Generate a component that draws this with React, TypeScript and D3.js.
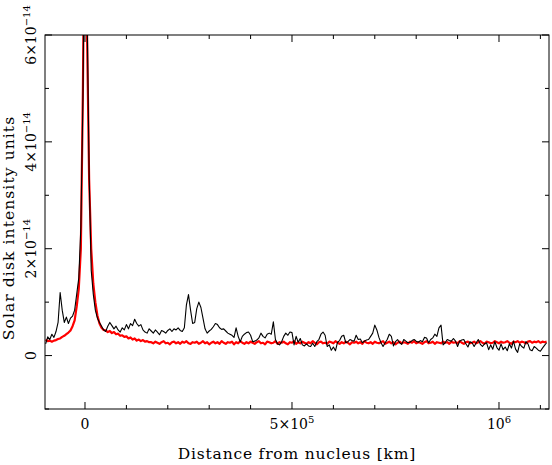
import * as d3 from 'd3';

// distance from nucleus, in units of 1000 km
const distanceKkm = [
	-95, -90, -85, -80, -75, -70, -65, -60, -55, -50, -45, -40, -35, -30, -25, -20, -15, -10, -5, 0,
	5, 10, 15, 20, 25, 30, 35, 40, 45, 50, 55, 60, 65, 70, 75, 80, 85, 90, 95, 100,
	105, 110, 115, 120, 125, 130, 135, 140, 145, 150, 155, 160, 165, 170, 175, 180, 185, 190, 195, 200,
	205, 210, 215, 220, 225, 230, 235, 240, 245, 250, 255, 260, 265, 270, 275, 280, 285, 290, 295, 300,
	305, 310, 315, 320, 325, 330, 335, 340, 345, 350, 355, 360, 365, 370, 375, 380, 385, 390, 395, 400,
	405, 410, 415, 420, 425, 430, 435, 440, 445, 450, 455, 460, 465, 470, 475, 480, 485, 490, 495, 500,
	505, 510, 515, 520, 525, 530, 535, 540, 545, 550, 555, 560, 565, 570, 575, 580, 585, 590, 595, 600,
	605, 610, 615, 620, 625, 630, 635, 640, 645, 650, 655, 660, 665, 670, 675, 680, 685, 690, 695, 700,
	705, 710, 715, 720, 725, 730, 735, 740, 745, 750, 755, 760, 765, 770, 775, 780, 785, 790, 795, 800,
	805, 810, 815, 820, 825, 830, 835, 840, 845, 850, 855, 860, 865, 870, 875, 880, 885, 890, 895, 900,
	905, 910, 915, 920, 925, 930, 935, 940, 945, 950, 955, 960, 965, 970, 975, 980, 985, 990, 995, 1000,
	1005, 1010, 1015, 1020, 1025, 1030, 1035, 1040, 1045, 1050, 1055, 1060, 1065, 1070, 1075, 1080, 1085, 1090, 1095, 1100,
	1105, 1110, 1115,
];

// observed profile (black), units of 1e-14
const observed = [
	0.22, 0.35, 0.30, 0.40, 0.34, 0.45, 0.62, 1.18, 0.85, 0.62, 0.72, 0.60, 0.70, 0.74, 0.85, 1.15, 1.45, 2.4, 4.8, 9.0,
	6.5, 3.4, 1.6, 1.15, 0.85, 0.70, 0.62,
	0.55, 0.48, 0.45, 0.55, 0.62, 0.56, 0.50, 0.55, 0.48, 0.44, 0.52, 0.48,
	0.58, 0.50, 0.60, 0.56, 0.68, 0.60, 0.55, 0.58, 0.48, 0.44, 0.42, 0.50,
	0.46, 0.42, 0.48, 0.44, 0.39, 0.47, 0.45, 0.42, 0.47, 0.50, 0.45, 0.50,
	0.48, 0.52, 0.47, 0.45, 0.52, 0.95, 1.14, 0.85, 0.60, 0.62, 0.88, 1.00,
	0.90, 0.70, 0.50, 0.42, 0.46, 0.49, 0.54, 0.60, 0.58, 0.52, 0.49, 0.50,
	0.46, 0.42, 0.40, 0.38, 0.34, 0.52, 0.36, 0.26, 0.36, 0.40, 0.43, 0.44,
	0.38, 0.26, 0.27, 0.29, 0.33, 0.42, 0.36, 0.33, 0.40, 0.42, 0.40, 0.63,
	0.30, 0.22, 0.20, 0.26, 0.36, 0.42, 0.38, 0.44,
	0.43, 0.20, 0.36, 0.25, 0.32, 0.20, 0.18, 0.22, 0.18, 0.17, 0.23, 0.17,
	0.26, 0.30, 0.40, 0.44, 0.38, 0.17, 0.20, 0.10, 0.16, 0.09, 0.25, 0.28,
	0.36, 0.38, 0.24, 0.26, 0.30, 0.28, 0.27, 0.38, 0.30, 0.31, 0.24, 0.27,
	0.29, 0.30, 0.36, 0.42, 0.57, 0.48, 0.34, 0.24, 0.17, 0.24, 0.30, 0.40,
	0.36, 0.18, 0.26, 0.30, 0.24, 0.21, 0.30, 0.27, 0.24, 0.25, 0.28, 0.30,
	0.27, 0.25, 0.28,
	0.26, 0.34, 0.33, 0.24, 0.30, 0.33, 0.40, 0.36, 0.52, 0.57, 0.20, 0.24,
	0.30, 0.28, 0.27, 0.32, 0.27, 0.17, 0.27, 0.29, 0.30, 0.22, 0.16, 0.26,
	0.24, 0.17, 0.24, 0.30, 0.21, 0.17, 0.22, 0.24, 0.11, 0.20, 0.12, 0.26,
	0.15, 0.10, 0.22, 0.11, 0.16, 0.09, 0.22, 0.14, 0.27, 0.12, 0.06, 0.22,
	0.17, 0.14, 0.26, 0.22, 0.11, 0.09, 0.17, 0.14, 0.10, 0.08, 0.14, 0.19,
	0.24,
];

// model profile (red), units of 1e-14
const model = [
	0.30, 0.27, 0.28, 0.26, 0.28, 0.29, 0.31, 0.32, 0.35, 0.37, 0.40, 0.43, 0.47, 0.55, 0.66, 0.92, 1.25, 2.0, 5.0, 9.5,
	6.0, 3.3, 2.0, 1.35, 1.0, 0.75, 0.60,
	0.52, 0.48, 0.47, 0.44, 0.46, 0.42, 0.44, 0.40, 0.41, 0.37, 0.38, 0.35,
	0.36, 0.32, 0.34, 0.30, 0.32, 0.28, 0.30, 0.27, 0.29, 0.26, 0.27, 0.25,
	0.25, 0.23, 0.26, 0.24, 0.22, 0.25, 0.27, 0.23, 0.24, 0.21, 0.25, 0.26,
	0.23, 0.25, 0.22, 0.26, 0.24, 0.27, 0.23, 0.22, 0.25, 0.24, 0.26, 0.22,
	0.24, 0.27, 0.23, 0.25, 0.21, 0.24, 0.26, 0.23, 0.25, 0.22, 0.27, 0.24,
	0.22, 0.25, 0.24, 0.26, 0.21, 0.25, 0.23, 0.27, 0.24, 0.22, 0.25, 0.23,
	0.26, 0.24, 0.22, 0.25, 0.27, 0.23, 0.24, 0.21, 0.26, 0.25, 0.23, 0.24,
	0.27, 0.22, 0.25, 0.24, 0.26, 0.23, 0.21, 0.25, 0.24, 0.27, 0.22, 0.25,
	0.23, 0.26, 0.24, 0.22, 0.25, 0.23, 0.27, 0.24, 0.21, 0.25, 0.26, 0.23,
	0.24, 0.22, 0.26, 0.25, 0.23, 0.27, 0.24, 0.22, 0.25, 0.23, 0.26, 0.24,
	0.21, 0.25, 0.24, 0.26, 0.23, 0.25, 0.22, 0.27, 0.24, 0.23, 0.25, 0.22,
	0.26, 0.24, 0.23, 0.25, 0.27, 0.22, 0.24, 0.26, 0.23, 0.25, 0.21, 0.24,
	0.26, 0.23, 0.25, 0.24, 0.22, 0.26, 0.24, 0.27, 0.23, 0.25, 0.24, 0.22,
	0.25, 0.27, 0.23, 0.24, 0.26, 0.22, 0.25, 0.24, 0.23, 0.26, 0.24, 0.25,
	0.22, 0.26, 0.24, 0.25, 0.23, 0.27, 0.24, 0.22, 0.25, 0.26, 0.23, 0.24,
	0.26, 0.23, 0.25, 0.27, 0.24, 0.22, 0.26, 0.25, 0.23, 0.24, 0.27, 0.25,
	0.23, 0.26, 0.24, 0.25, 0.27, 0.24, 0.22, 0.26, 0.25, 0.27, 0.24, 0.26,
	0.25, 0.23, 0.26, 0.27, 0.24, 0.26, 0.25, 0.27, 0.24, 0.26, 0.25, 0.26,
];

const xMajorTicks = [0, 500, 1000];
const xMinorTicks = [100, 200, 300, 400, 600, 700, 800, 900, 1100];
const xTickLabels = [
	{ base: '0', exp: '' },
	{ base: '5×10', exp: '5' },
	{ base: '10', exp: '6' },
];
const yMajorTicks = [0, 2, 4, 6];
const yMinorTicks = [-1, 1, 3, 5];
const yTickLabels = [
	{ base: '0', exp: '' },
	{ base: '2×10', exp: '−14' },
	{ base: '4×10', exp: '−14' },
	{ base: '6×10', exp: '−14' },
];

const frame = { left: 45, right: 549, top: 35, bottom: 409 };
const font = '"DejaVu Serif", serif';

export default function App() {

	const x = d3.scaleLinear().domain([-96.6, 1120.8]).range([frame.left, frame.right]);
	const y = d3.scaleLinear().domain([-1, 6]).range([frame.bottom, frame.top]);

	const path = (vals: number[]) => d3.line<number>()
		.x((_, i) => x(distanceKkm[i]))
		.y(d => y(d))(vals) || '';

	const tick = '#000';

	return (
		<svg width={552} height={465} style={{ position: 'fixed', left: 0, top: 0, background: '#fff' }}>
			<defs>
				<clipPath id='plot'>
					<rect x={frame.left} y={frame.top} width={frame.right - frame.left} height={frame.bottom - frame.top} />
				</clipPath>
			</defs>

			<g clipPath='url(#plot)' fill='none' strokeLinejoin='round'>
				<path d={path(model)} stroke='#ff0000' strokeWidth={2.2} />
				<path d={path(observed)} stroke='#000' strokeWidth={1.1} />
			</g>

			<rect x={frame.left} y={frame.top} width={frame.right - frame.left} height={frame.bottom - frame.top}
				fill='none' stroke={tick} strokeWidth={1} />

			{xMajorTicks.map(t => <g key={'xM' + t}>
				<line x1={x(t)} x2={x(t)} y1={frame.bottom} y2={frame.bottom - 7} stroke={tick} />
				<line x1={x(t)} x2={x(t)} y1={frame.top} y2={frame.top + 7} stroke={tick} />
			</g>)}
			{xMinorTicks.map(t => <g key={'xm' + t}>
				<line x1={x(t)} x2={x(t)} y1={frame.bottom} y2={frame.bottom - 4} stroke={tick} />
				<line x1={x(t)} x2={x(t)} y1={frame.top} y2={frame.top + 4} stroke={tick} />
			</g>)}
			{yMajorTicks.map(t => <g key={'yM' + t}>
				<line y1={y(t)} y2={y(t)} x1={frame.left} x2={frame.left + 7} stroke={tick} />
				<line y1={y(t)} y2={y(t)} x1={frame.right} x2={frame.right - 7} stroke={tick} />
			</g>)}
			{yMinorTicks.map(t => <g key={'ym' + t}>
				<line y1={y(t)} y2={y(t)} x1={frame.left} x2={frame.left + 4} stroke={tick} />
				<line y1={y(t)} y2={y(t)} x1={frame.right} x2={frame.right - 4} stroke={tick} />
			</g>)}

			<g fontFamily={font} fontSize={14} fill='#000'>
				{xMajorTicks.map((t, i) => (
					<text key={'xl' + t} x={x(t)} y={429} textAnchor='middle'>
						{xTickLabels[i].base}
						{xTickLabels[i].exp && <tspan fontSize={10} dy={-6}>{xTickLabels[i].exp}</tspan>}
					</text>
				))}
				{yMajorTicks.map((t, i) => (
					<text key={'yl' + t} transform={`translate(36,${y(t)}) rotate(-90)`} textAnchor='middle'>
						{yTickLabels[i].base}
						{yTickLabels[i].exp && <tspan fontSize={10} dy={-6}>{yTickLabels[i].exp}</tspan>}
					</text>
				))}
			</g>

			<text x={(frame.left + frame.right) / 2} y={459} textAnchor='middle' fontFamily={font} fontSize={15.5}
				letterSpacing={0.8}>
				Distance from nucleus [km]
			</text>
			<text transform={`translate(14,${(frame.top + frame.bottom) / 2 + 6}) rotate(-90)`} textAnchor='middle'
				fontFamily={font} fontSize={15.5} letterSpacing={1.1}>
				Solar disk intensity units
			</text>
		</svg>
	);
}
